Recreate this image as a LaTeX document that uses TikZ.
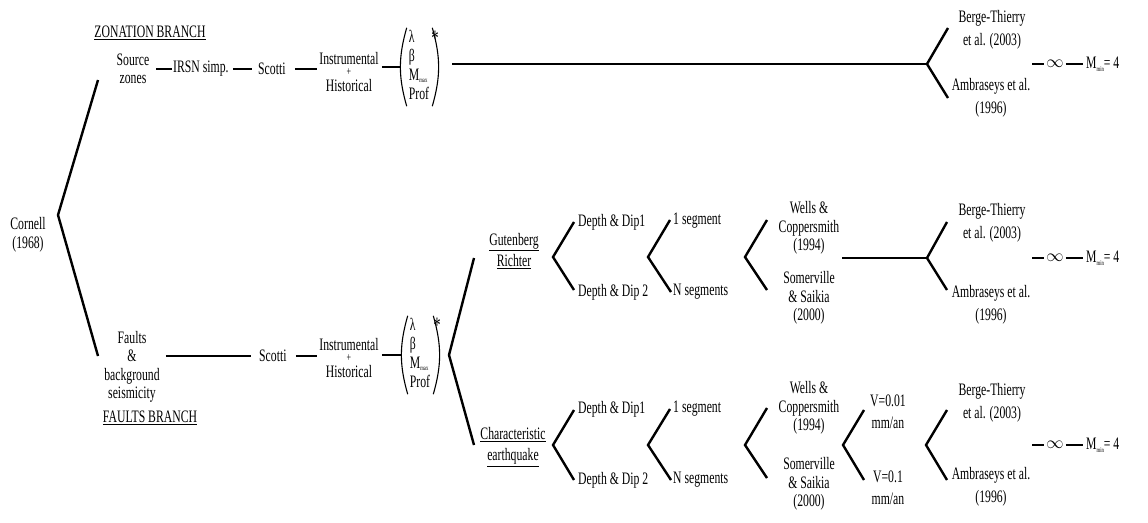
\documentclass[tikz,border=0pt]{standalone}
\usepackage{fontspec}
\setmainfont{Liberation Serif}[FakeStretch=0.67]
\newcommand\fs{\fontsize{17.5}{18.5}\selectfont}
\newcommand\sbs[1]{\raisebox{-2.5pt}{\fontsize{7}{7}\selectfont #1}}
\newcommand\vectext{\fontsize{17.5}{19}\selectfont\begin{tabular}{@{}l@{}}λ\\β\\M\sbs{max}\\Prof\end{tabular}}
\newcommand\ihtext{Instrumental\\[-7pt]{\fontsize{12}{12}\selectfont +}\\[-3pt]Historical}
\newcommand\stx{{\fontsize{22}{22}\selectfont *}}
\begin{document}
\begin{tikzpicture}[x=1pt,y=-1pt,
  lbl/.style={inner sep=0pt, align=center, font=\fs},
  lw/.style={inner sep=0pt, anchor=west, font=\fs},
  vecnode/.style={inner xsep=4pt, inner ysep=1pt},
  paren/.style={line width=1.1pt},
  ln/.style={line width=2.4pt}]
\useasboundingbox (0,0) rectangle (1148,522);

% ---------- left ----------
\node[lbl] (cor) at (28,235) {Cornell\\(1968)};
\coordinate (c0) at (58,215);
\coordinate (c0u) at (98,80);
\coordinate (c0d) at (98,356);
\draw[ln] (c0u) -- (c0) -- (c0d);

% ---------- zonation branch ----------
\node[lbl] (zb) at (150,33) {\underline{ZONATION BRANCH}};
\node[lbl] (sz) at (133,69) {Source\\zones};
\node[lw] (irsn) at (173,69) {IRSN simp.};
\node[lw] (sc1) at (258,69) {Scotti};
\node[lbl] (ih1) at (349,72) {\ihtext};
\node[vecnode] (v1) at (419,67) {\vectext};
\draw[paren] ([xshift=2pt]v1.north west) to[bend right=16] ([xshift=2pt]v1.south west);
\draw[paren] ([xshift=-1pt]v1.north east) to[bend left=16] ([xshift=-1pt]v1.south east);
\node[lbl] (s1) at (435,38) {\stx};
\draw[ln, shorten <=7pt, shorten >=1pt] (sz.east |- irsn.west) -- (irsn.west);
\draw[ln, shorten <=4pt, shorten >=6pt] (irsn.east) -- (sc1.west);
\draw[ln, shorten <=9pt, shorten >=2pt] (sc1.east) -- (sc1.east -| ih1.west);
\draw[ln, shorten <=3pt, shorten >=5pt] (ih1.east |- v1.west) -- (v1.west);

\coordinate (ft) at (927,64);
\coordinate (ftu) at (948,28);
\coordinate (ftd) at (948,98);
\draw[ln, shorten <=19pt] (v1.east |- ft) -- (ft);
\draw[ln] (ftu) -- (ft) -- (ftd);
\node[lbl] (bt1) at (992,30) {Berge-Thierry\\[4pt]et al. (2003)};
\node[lbl] (am1) at (991,98) {Ambraseys et al.\\[4pt](1996)};
\coordinate (e1) at (1032,64);
\node[lbl] (inf1) at (1055,64) {$\infty$};
\node[lw] (m1) at (1086,64) {M\sbs{min}= 4};
\draw[ln, shorten >=2pt] (e1) -- (inf1.west);
\draw[ln, shorten <=2pt, shorten >=3pt] (inf1.east) -- (m1.west);

% ---------- faults branch ----------
\node[lbl] (fb) at (132,367) {Faults\\\&\\background\\seismicity};
\node[lbl] (fbr) at (150,418) {\underline{FAULTS BRANCH}};
\node[lw] (sc2) at (259,356) {Scotti};
\node[lbl] (ih2) at (349,358) {\ihtext};
\node[vecnode] (v2) at (420,355) {\vectext};
\draw[paren] ([xshift=2pt]v2.north west) to[bend right=16] ([xshift=2pt]v2.south west);
\draw[paren] ([xshift=-1pt]v2.north east) to[bend left=16] ([xshift=-1pt]v2.south east);
\node[lbl] (s2) at (437,325) {\stx};
\draw[ln, shorten <=6pt, shorten >=8pt] (fb.east |- sc2.west) -- (sc2.west);
\draw[ln, shorten <=9pt, shorten >=2pt] (sc2.east) -- (sc2.east -| ih2.west);
\draw[ln, shorten <=3pt, shorten >=5pt] (ih2.east |- v2.west) -- (v2.west);

\coordinate (fv) at (449,355);
\coordinate (fvu) at (474,258);
\coordinate (fvd) at (474,445);
\draw[ln] (fvu) -- (fv) -- (fvd);

% ---------- Gutenberg Richter ----------
\node[lbl] (gr) at (514,251) {\underline{Gutenberg}\\[3pt]\underline{Richter}};
\coordinate (g1) at (553,257);
\coordinate (g1u) at (574,222);
\coordinate (g1d) at (574,290);
\draw[ln] (g1u) -- (g1) -- (g1d);
\node[lw] (dd1) at (578,222) {Depth \& Dip1};
\node[lw] (dd2) at (578,292) {Depth \& Dip 2};
\coordinate (g2) at (648,257);
\coordinate (g2u) at (670,220);
\coordinate (g2d) at (671,292);
\draw[ln] (g2u) -- (g2) -- (g2d);
\node[lw] (sg1) at (673,221) {1 segment};
\node[lw] (sgn1) at (673,292) {N segments};
\coordinate (g3) at (745,257);
\coordinate (g3u) at (767,220);
\coordinate (g3d) at (767,290);
\draw[ln] (g3u) -- (g3) -- (g3d);
\node[lbl] (wc1) at (809,228) {Wells \&\\Coppersmith\\(1994)};
\node[lbl] (ss1) at (809,298) {Somerville\\\& Saikia\\(2000)};
\coordinate (gl) at (842,258);
\coordinate (gf) at (927,258);
\coordinate (gfu) at (947,222);
\coordinate (gfd) at (947,290);
\draw[ln] (gl) -- (gf);
\draw[ln] (gfu) -- (gf) -- (gfd);
\node[lbl] (bt2) at (992,223) {Berge-Thierry\\[4pt]et al. (2003)};
\node[lbl] (am2) at (991,305) {Ambraseys et al.\\[4pt](1996)};
\coordinate (e2) at (1032,258);
\node[lbl] (inf2) at (1055,258) {$\infty$};
\node[lw] (m2) at (1086,258) {M\sbs{min}= 4};
\draw[ln, shorten >=2pt] (e2) -- (inf2.west);
\draw[ln, shorten <=2pt, shorten >=3pt] (inf2.east) -- (m2.west);

% ---------- Characteristic earthquake ----------
\node[lbl] (ce) at (513,447) {\underline{Characteristic}\\[3pt]\underline{earthquake}};
\coordinate (h1) at (553,445);
\coordinate (h1u) at (574,410);
\coordinate (h1d) at (574,480);
\draw[ln] (h1u) -- (h1) -- (h1d);
\node[lw] (dd3) at (578,409) {Depth \& Dip1};
\node[lw] (dd4) at (578,480) {Depth \& Dip 2};
\coordinate (h2) at (648,445);
\coordinate (h2u) at (670,409);
\coordinate (h2d) at (671,480);
\draw[ln] (h2u) -- (h2) -- (h2d);
\node[lw] (sg2) at (673,409) {1 segment};
\node[lw] (sgn2) at (673,480) {N segments};
\coordinate (h3) at (745,445);
\coordinate (h3u) at (767,408);
\coordinate (h3d) at (767,478);
\draw[ln] (h3u) -- (h3) -- (h3d);
\node[lbl] (wc2) at (809,408) {Wells \&\\Coppersmith\\(1994)};
\node[lbl] (ss2) at (809,484) {Somerville\\\& Saikia\\(2000)};
\coordinate (h4) at (843,445);
\coordinate (h4u) at (864,410);
\coordinate (h4d) at (864,480);
\draw[ln] (h4u) -- (h4) -- (h4d);
\node[lbl] (va) at (888,412) {V=0.01\\[3pt]mm/an};
\node[lbl] (vb) at (888,488) {V=0.1\\[3pt]mm/an};
\coordinate (h5) at (926,445);
\coordinate (h5u) at (947,410);
\coordinate (h5d) at (947,480);
\draw[ln] (h5u) -- (h5) -- (h5d);
\node[lbl] (bt3) at (992,403) {Berge-Thierry\\[4pt]et al. (2003)};
\node[lbl] (am3) at (991,487) {Ambraseys et al.\\[4pt](1996)};
\coordinate (e3) at (1032,445);
\node[lbl] (inf3) at (1055,445) {$\infty$};
\node[lw] (m3) at (1086,445) {M\sbs{min}= 4};
\draw[ln, shorten >=2pt] (e3) -- (inf3.west);
\draw[ln, shorten <=2pt, shorten >=3pt] (inf3.east) -- (m3.west);
\end{tikzpicture}
\end{document}
